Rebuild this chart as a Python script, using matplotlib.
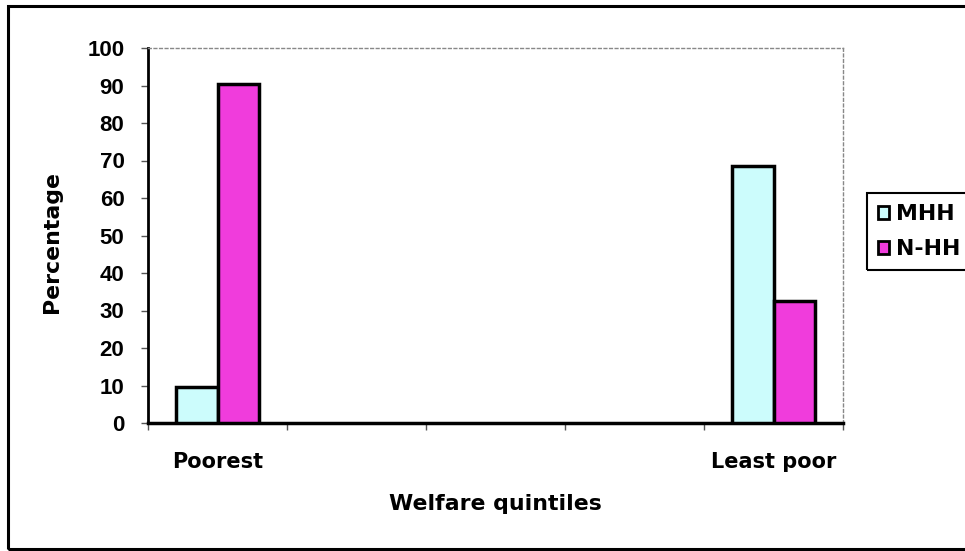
import numpy as np
import matplotlib
matplotlib.use("Agg")
import matplotlib.pyplot as plt
from matplotlib.patches import Rectangle

# Welfare quintiles (only the two extremes carry labels and data)
quintiles = ["Poorest", "", "", "", "Least poor"]
mhh = [9.5, np.nan, np.nan, np.nan, 68.5]
nhh = [90.5, np.nan, np.nan, np.nan, 32.5]
series_names = ["MHH", "N-HH"]
y_ticks = [0, 10, 20, 30, 40, 50, 60, 70, 80, 90, 100]

W, H = 965, 551
fig = plt.figure(figsize=(W / 100, H / 100), dpi=100)
fig.patch.set_facecolor("white")

left, right, top, bottom = 148, 843, 48, 423
ax = fig.add_axes([left / W, 1 - bottom / H, (right - left) / W, (bottom - top) / H])

x = np.arange(len(quintiles))
bw = 0.3
c_mhh = "#ccfcfc"
c_nhh = "#f03cdc"
ax.bar(x - bw / 2, mhh, bw, color=c_mhh, edgecolor="black", linewidth=2.5, label=series_names[0], zorder=3)
ax.bar(x + bw / 2, nhh, bw, color=c_nhh, edgecolor="black", linewidth=2.5, label=series_names[1], zorder=3)

ax.set_xlim(-0.5, len(quintiles) - 0.5)
ax.set_ylim(0, 100)

title_font = dict(family="DejaVu Sans", weight="bold", size=15.8)
cat_font = dict(family="DejaVu Sans", weight="bold", size=15)
digit_font = dict(family="Liberation Sans", weight="bold", size=16)

# y axis
ax.set_yticks(y_ticks)
ax.set_yticklabels([str(v) for v in y_ticks], fontdict=digit_font)
ax.tick_params(axis="y", direction="out", length=5, width=1, color="#555555", pad=12)

# x axis: labels at category centres, tick marks at category boundaries
ax.set_xticks(x)
ax.set_xticklabels(quintiles, fontdict=cat_font)
ax.tick_params(axis="x", which="major", length=0, pad=21)
ax.set_xticks(np.arange(-0.5, len(quintiles)), minor=True)
ax.tick_params(axis="x", which="minor", direction="out", length=5, width=1, color="#555555")

for side in ("top", "right"):
    ax.spines[side].set_linestyle((0, (2, 2)))
    ax.spines[side].set_color("#888888")
    ax.spines[side].set_linewidth(1)
ax.spines["left"].set_linewidth(2)
ax.spines["bottom"].set_linewidth(2.5)

ax.set_xlabel("Welfare quintiles", fontdict=title_font, labelpad=16)
fig.text(52 / W, 1 - 242 / H, "Percentage", rotation=90, ha="center", va="center", **title_font)

leg = ax.legend(loc="upper left", bbox_to_anchor=(867 / W, 1 - 193 / H),
                bbox_transform=fig.transFigure, prop=dict(family="DejaVu Sans", weight="bold", size=15.8),
                frameon=False, handlelength=0.5, handleheight=0.55,
                handletextpad=0.3, borderpad=0.5, labelspacing=0.7, borderaxespad=0)
for h in leg.legend_handles:
    h.set_linewidth(2)

# legend frame: box that runs on past the right edge of the chart area
fig.canvas.draw()
lb = leg.get_window_extent().transformed(fig.transFigure.inverted())
fig.add_artist(Rectangle((lb.x0, lb.y0), 0.3, lb.height, transform=fig.transFigure,
                         fill=False, edgecolor="black", linewidth=1.5))

# outer chart border
fig.add_artist(Rectangle((8 / W, 1 - 549 / H), 1.2, (549 - 6) / H, transform=fig.transFigure,
                         fill=False, edgecolor="black", linewidth=2.2))

fig.savefig("out.png", dpi=100)
